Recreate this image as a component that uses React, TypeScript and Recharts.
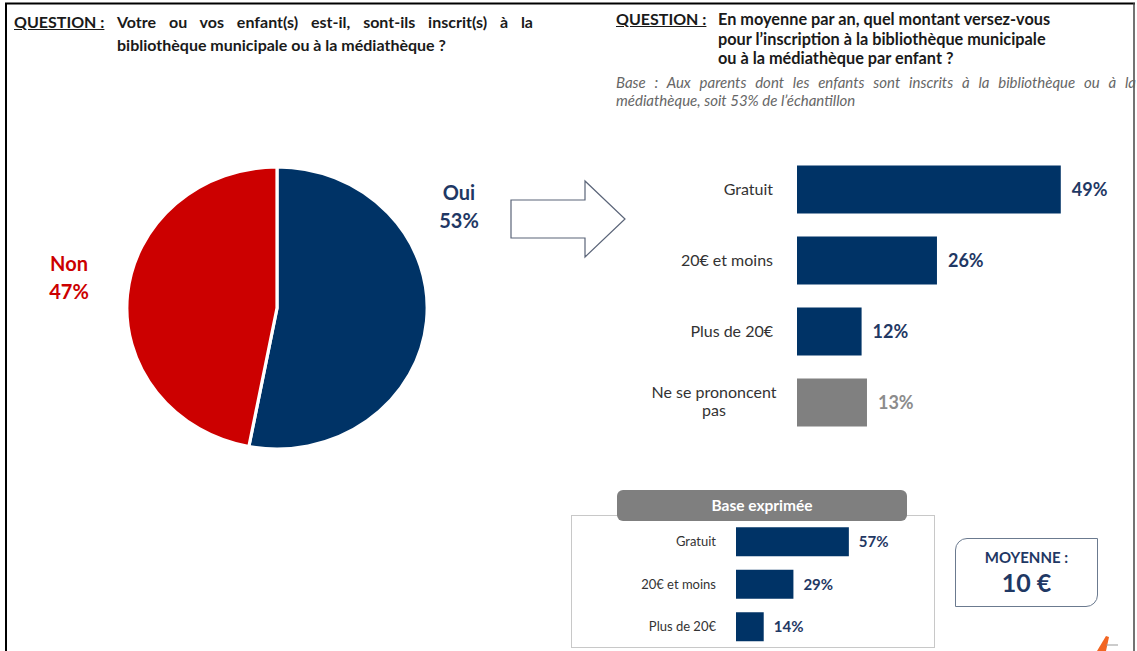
import React from 'react';
import { PieChart, Pie, Cell, BarChart, Bar, XAxis, YAxis, LabelList } from 'recharts';

// ---- Data ----
const pieLabels = ['Oui', 'Non'];
const pieValues = [53, 47];
const pieColors = ['#003366', '#CC0000'];

const mainCategories = ['Gratuit', '20€ et moins', 'Plus de 20€', 'Ne se prononcent\npas'];
const mainValues = [49, 26, 12, 13];
const mainBarColors = ['#003366', '#003366', '#003366', '#808080'];
const mainLabelColors = ['#1F3864', '#1F3864', '#1F3864', '#8C8C8C'];

const baseCategories = ['Gratuit', '20€ et moins', 'Plus de 20€'];
const baseValues = [57, 29, 14];

const FONT = 'Lato, "Open Sans", "DejaVu Sans", sans-serif';

const pieData = pieLabels.map((name, i) => ({ name, value: pieValues[i] }));
const mainData = mainCategories.map((name, i) => ({ name, value: mainValues[i] }));
const baseData = baseCategories.map((name, i) => ({ name, value: baseValues[i] }));

const MainTick = (props: any) => {
  const { x, y, payload } = props;
  const lines = String(payload.value).split('\n');
  if (lines.length > 1) {
    return (
      <text x={x - 83} y={y} textAnchor="middle" fill="#333" fontSize={16} fontFamily={FONT}>
        {lines.map((l, i) => (
          <tspan key={i} x={x - 83} dy={i === 0 ? -4 : 18}>{l}</tspan>
        ))}
      </text>
    );
  }
  return (
    <text x={x - 24} y={y} dy="0.35em" textAnchor="end" fill="#333" fontSize={16} fontFamily={FONT}>
      {payload.value}
    </text>
  );
};

const BaseTick = (props: any) => {
  const { x, y, payload } = props;
  return (
    <text x={x - 20} y={y} dy="0.35em" textAnchor="end" fill="#333" fontSize={13} fontFamily={FONT}>
      {payload.value}
    </text>
  );
};

const MainValueLabel = (props: any) => {
  const { x, y, width, height, value, index } = props;
  return (
    <text x={x + width + 11} y={y + height / 2} dy="0.35em" textAnchor="start" fill={mainLabelColors[index]}
      fontSize={18} fontWeight={700} fontFamily={FONT}>
      {value}%
    </text>
  );
};

const BaseValueLabel = (props: any) => {
  const { x, y, width, height, value } = props;
  return (
    <text x={x + width + 10} y={y + height / 2} dy="0.35em" textAnchor="start" fill="#1F3864"
      fontSize={15} fontWeight={700} fontFamily={FONT}>
      {value}%
    </text>
  );
};

const abs = (left: number, top: number, extra: React.CSSProperties = {}): React.CSSProperties => ({
  position: 'absolute', left, top, ...extra,
});

const justifyLine: React.CSSProperties = { textAlign: 'justify', textAlignLast: 'justify' as any, whiteSpace: 'nowrap' };

export default function App() {
  return (
    <div style={{ position: 'absolute', left: 0, top: 0, width: 1137, height: 651, background: '#fff', overflow: 'hidden', fontFamily: FONT }}>
      {/* frame */}
      <svg width={1137} height={651} style={abs(0, 0)}>
        <line x1={5} y1={3.5} x2={1135} y2={3.5} stroke="#000" strokeWidth={2} />
        <line x1={6} y1={3} x2={6} y2={651} stroke="#000" strokeWidth={2} />
        <line x1={1134} y1={3} x2={1134} y2={651} stroke="#444" strokeWidth={1.5} />
        {/* arrow */}
        <polygon points="511,200 585,200 585,181 625,219 585,257 585,238 511,238" fill="#fff" stroke="#5A6478" strokeWidth={1.2} />
        {/* small logo */}
        <polygon points="1097,651 1106,636 1109,637 1106,651" fill="#F26522" />
        <line x1={1106} y1={645} x2={1118} y2={645} stroke="#999" strokeWidth={1} />
      </svg>

      {/* left question */}
      <div style={abs(14, 10, { fontSize: 16, fontWeight: 700, color: '#1a1a1a', lineHeight: '23px', textDecoration: 'underline' })}>QUESTION :</div>
      <div style={abs(117, 10, { width: 416, fontSize: 16, fontWeight: 700, color: '#1a1a1a', lineHeight: '23px' })}>
        <div style={justifyLine}>Votre ou vos enfant(s) est-il, sont-ils inscrit(s) à la</div>
        <div style={{ whiteSpace: 'nowrap' }}>bibliothèque municipale ou à la médiathèque ?</div>
      </div>

      {/* right question */}
      <div style={abs(616, 9, { fontSize: 16, fontWeight: 700, color: '#1a1a1a', lineHeight: '19.5px', textDecoration: 'underline' })}>QUESTION :</div>
      <div style={abs(718, 9, { width: 400, fontSize: 16.3, fontWeight: 700, color: '#1a1a1a', lineHeight: '19.5px', whiteSpace: 'nowrap' })}>
        En moyenne par an, quel montant versez-vous<br />
        pour l’inscription à la bibliothèque municipale<br />
        ou à la médiathèque par enfant ?
      </div>
      <div style={abs(616, 73, { width: 520, fontSize: 15, fontStyle: 'italic', color: '#666', lineHeight: '18px' })}>
        <div style={justifyLine}>Base : Aux parents dont les enfants sont inscrits à la bibliothèque ou à la</div>
        <div style={{ whiteSpace: 'nowrap' }}>médiathèque, soit 53% de l’échantillon</div>
      </div>

      {/* pie */}
      <div style={abs(117, 158, { width: 320, height: 300, transform: 'scaleX(1.065)', transformOrigin: '160px 150px' })}>
        <PieChart width={320} height={300} margin={{ top: 0, right: 0, bottom: 0, left: 0 }}>
          <Pie data={pieData} dataKey="value" nameKey="name" cx={160} cy={150} outerRadius={141}
            startAngle={90} endAngle={-270} stroke="#fff" strokeWidth={3} isAnimationActive={false}>
            {pieData.map((d, i) => <Cell key={d.name} fill={pieColors[i]} />)}
          </Pie>
        </PieChart>
      </div>
      <div style={abs(419, 178, { width: 80, textAlign: 'center', fontSize: 20, fontWeight: 700, color: '#1F3864', lineHeight: '28px' })}>
        {pieLabels[0]}<br />{pieValues[0]}%
      </div>
      <div style={abs(29, 249, { width: 80, textAlign: 'center', fontSize: 20, fontWeight: 700, color: '#CC0000', lineHeight: '28px' })}>
        {pieLabels[1]}<br />{pieValues[1]}%
      </div>

      {/* main bar chart */}
      <div style={abs(600, 140)}>
        <BarChart width={537} height={310} data={mainData} layout="vertical"
          margin={{ top: 13.5, right: 17, bottom: 12.5, left: 0 }}>
          <XAxis type="number" domain={[0, 60]} hide />
          <YAxis type="category" dataKey="name" width={197} axisLine={false} tickLine={false}
            tickSize={0} tickMargin={0} interval={0} tick={<MainTick />} />
          <Bar dataKey="value" barSize={48} isAnimationActive={false}>
            {mainData.map((d, i) => <Cell key={d.name} fill={mainBarColors[i]} />)}
            <LabelList dataKey="value" content={<MainValueLabel />} />
          </Bar>
        </BarChart>
      </div>

      {/* base exprimée box */}
      <div style={abs(571, 515, { width: 364, height: 133, border: '1.5px solid #C8C8C8', boxSizing: 'border-box' })} />
      <div style={abs(571, 515)}>
        <BarChart width={364} height={134} data={baseData} layout="vertical"
          margin={{ top: 5.25, right: 1, bottom: 1.25, left: 0 }}>
          <XAxis type="number" domain={[0, 100]} hide />
          <YAxis type="category" dataKey="name" width={165} axisLine={false} tickLine={false}
            tickSize={0} tickMargin={0} interval={0} tick={<BaseTick />} />
          <Bar dataKey="value" barSize={29} fill="#003366" isAnimationActive={false}>
            <LabelList dataKey="value" content={<BaseValueLabel />} />
          </Bar>
        </BarChart>
      </div>
      <div style={abs(617, 490, { width: 290, height: 31, background: '#7F7F7F', borderRadius: 6, color: '#fff', fontSize: 15.5, fontWeight: 700, lineHeight: '31px', textAlign: 'center' })}>
        Base exprimée
      </div>

      {/* moyenne box */}
      <div style={abs(955, 538, { width: 143, height: 69, border: '1.5px solid #6B7A8F', borderRadius: '12px 0 12px 0', boxSizing: 'border-box', textAlign: 'center', color: '#1F3864', fontWeight: 700 })}>
        <div style={{ fontSize: 15, marginTop: 9, lineHeight: '18px' }}>MOYENNE :</div>
        <div style={{ fontSize: 25, lineHeight: '32px' }}>10 €</div>
      </div>
    </div>
  );
}
